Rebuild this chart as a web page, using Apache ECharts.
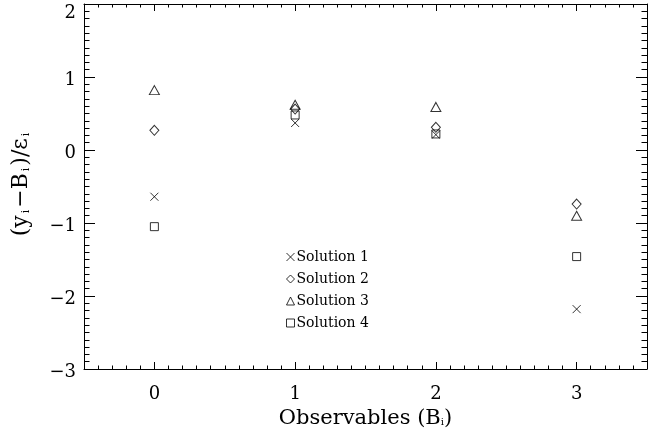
<!DOCTYPE html>
<html>
<head>
<meta charset="utf-8">
<script src="https://cdn.jsdelivr.net/npm/echarts@6/dist/echarts.min.js"></script>
<style>html,body{margin:0;padding:0;background:#fff}#c{width:660px;height:437px}</style>
</head>
<body>
<div id="c"></div>
<script>
var observables = [0, 1, 2, 3];
var solution1 = [-0.64, 0.37, 0.21, -2.18];   // X
var solution2 = [0.27, 0.56, 0.31, -0.74];    // diamond
var solution3 = [0.82, 0.62, 0.59, -0.90];    // triangle
var solution4 = [-1.05, 0.48, 0.22, -1.46];   // square
var seriesNames = ['Solution 1', 'Solution 2', 'Solution 3', 'Solution 4'];
var xMajorTicks = [0, 1, 2, 3];
var yTicks = [-3, -2, -1, 0, 1, 2];

var FONT = 'DejaVu Serif';
function pairs(vals) { return observables.map(function (x, i) { return [x, vals[i]]; }); }

var hollow = { color: 'rgba(0,0,0,0)', borderColor: '#000', borderWidth: 1 };
var xPath = 'path://M0,0L10,10M10,0L0,10';

function xAxisDef(pos, minor, withLabels) {
  var a = {
    type: 'value', position: pos, min: -0.5, max: 3.5,
    axisLine: { show: !minor, onZero: false, lineStyle: { color: '#000', width: 1 } },
    splitLine: { show: false },
    axisTick: { show: true, inside: true, length: minor ? 3.5 : 7, lineStyle: { color: '#000', width: 1 } },
    axisLabel: { show: false }
  };
  if (minor) {
    a.interval = 0.1;
  } else {
    a.axisTick.customValues = xMajorTicks;
    a.axisLabel = { show: !!withLabels, customValues: xMajorTicks, margin: 16,
      color: '#000', fontFamily: FONT, fontSize: 18 };
  }
  return a;
}
var xa0 = xAxisDef('bottom', false, true);
xa0.name = 'Observables (B{s|i})';
xa0.nameLocation = 'middle';
xa0.nameGap = 32;
xa0.nameTextStyle = { color: '#000', fontFamily: FONT, fontSize: 21,
  rich: { s: { fontFamily: FONT, fontSize: 10, color: '#000', padding: [9, 0, 0, 0] } } };

function yAxisDef(pos, withLabels) {
  return {
    type: 'value', position: pos, min: -3, max: 2, interval: 1,
    axisLine: { show: true, onZero: false, lineStyle: { color: '#000', width: 1 } },
    splitLine: { show: false },
    axisTick: { show: true, inside: true, length: 11, lineStyle: { color: '#000', width: 1 } },
    minorTick: { show: true, splitNumber: 10, length: 5.5, lineStyle: { color: '#000', width: 1 } },
    axisLabel: { show: withLabels, margin: 8, color: '#000', fontFamily: FONT, fontSize: 18,
      formatter: function (v) {
        var s = String(v).replace('-', '\u2212');
        return v === 2 ? '{t|' + s + '}' : '{n|' + s + '}';
      },
      rich: {
        n: { fontFamily: FONT, fontSize: 18, color: '#000', padding: [6, 0, 0, 0] },
        t: { fontFamily: FONT, fontSize: 18, color: '#000', padding: [18, 0, 0, 0] }
      } }
  };
}
var ya0 = yAxisDef('left', true);
ya0.name = '(y{s|i}\u2212B{s|i})/\u03b5{s|i}';
ya0.nameLocation = 'middle';
ya0.nameRotate = 90;
ya0.nameGap = 52;
ya0.nameTextStyle = { color: '#000', fontFamily: FONT, fontSize: 22, padding: [0, 0, 0, 6],
  rich: { s: { fontFamily: FONT, fontSize: 11, color: '#000', padding: [10, 2, 0, 2] } } };

var symbols = [xPath, 'diamond', 'triangle', 'rect'];
var sizes = [[8, 8], [9, 10], [10, 9], [8, 8]];
var datas = [solution1, solution2, solution3, solution4];

var series = datas.map(function (d, i) {
  return {
    name: seriesNames[i], type: 'scatter', xAxisIndex: 0, yAxisIndex: 0,
    symbol: symbols[i], symbolSize: sizes[i], itemStyle: hollow,
    emphasis: { disabled: true }, data: pairs(d)
  };
});

var chart = echarts.init(document.getElementById('c'), null, { renderer: 'canvas' });
chart.setOption({
  animation: false,
  backgroundColor: '#fff',
  grid: { left: 84, right: 13, top: 4, bottom: 68, containLabel: false, outerBoundsMode: 'none' },
  legend: {
    orient: 'vertical', left: 281, top: 245, itemWidth: 8, itemHeight: 8, itemGap: 8,
    selectedMode: false,
    itemStyle: { borderWidth: 1 },
    textStyle: { color: '#000', fontFamily: FONT, fontSize: 14, padding: [0, 0, 0, -3] },
    data: seriesNames.map(function (n, i) { return { name: n, icon: symbols[i] }; })
  },
  xAxis: [xa0, xAxisDef('bottom', true), xAxisDef('top', false), xAxisDef('top', true)],
  yAxis: [ya0, yAxisDef('right', false)],
  series: series
});
</script>
</body>
</html>
